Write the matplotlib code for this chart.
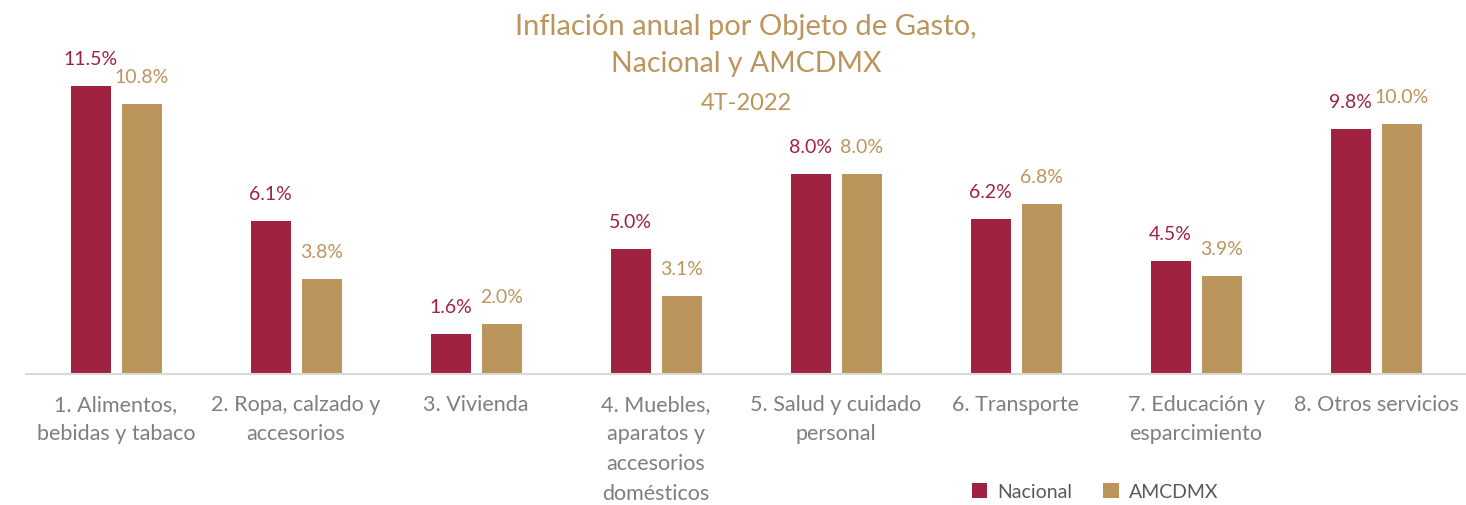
import matplotlib
matplotlib.use("Agg")
import matplotlib.pyplot as plt
import numpy as np

categorias = [
    "1. Alimentos,\nbebidas y tabaco",
    "2. Ropa, calzado y\naccesorios",
    "3. Vivienda",
    "4. Muebles,\naparatos y\naccesorios\ndomésticos",
    "5. Salud y cuidado\npersonal",
    "6. Transporte",
    "7. Educación y\nesparcimiento",
    "8. Otros servicios",
]
nacional = [11.5, 6.1, 1.6, 5.0, 8.0, 6.2, 4.5, 9.8]
amcdmx = [10.8, 3.8, 2.0, 3.1, 8.0, 6.8, 3.9, 10.0]

c_nac = "#9F2241"
c_amc = "#BC955C"
c_title = "#BC955C"
c_gray = "#7F7F7F"

plt.rcParams['font.family'] = ['Lato', 'DejaVu Sans']

fig = plt.figure(figsize=(14.66, 5.05), dpi=100)
ax = fig.add_axes([26 / 1466, 1 - 374 / 505, 1440 / 1466, 374 / 505])

x = np.arange(len(categorias))
w = 40 / 180
off = (40 + 11) / 180 / 2
ax.bar(x - off, nacional, w, color=c_nac, label="Nacional")
ax.bar(x + off, amcdmx, w, color=c_amc, label="AMCDMX")

for xi, v in zip(x - off, nacional):
    ax.annotate(f"{v:.1f}%", (xi, v), xytext=(0, 19), textcoords="offset points",
                ha="center", va="center", color=c_nac, fontsize=14)
for xi, v in zip(x + off, amcdmx):
    ax.annotate(f"{v:.1f}%", (xi, v), xytext=(0, 19), textcoords="offset points",
                ha="center", va="center", color=c_amc, fontsize=14)

ax.set_xlim(-0.5, len(categorias) - 0.5)
ax.set_ylim(0, 374 / 25.04)
for s in ["top", "right", "left"]:
    ax.spines[s].set_visible(False)
ax.spines["bottom"].set_color("#D9D9D9")
ax.spines["bottom"].set_linewidth(1.5)
ax.set_yticks([])
ax.set_xticks(x)
ax.set_xticklabels(categorias, fontsize=15.5, color=c_gray,
                   linespacing=1.6, va="top")
ax.tick_params(axis="x", length=0, pad=15)

fig.text(0.509, 1 - 27 / 505, "Inflación anual por Objeto de Gasto,", ha="center", va="center",
         fontsize=21, color=c_title)
fig.text(0.509, 1 - 64 / 505, "Nacional y AMCDMX", ha="center", va="center",
         fontsize=20.5, color=c_title)
fig.text(0.509, 1 - 104 / 505, "4T-2022", ha="center", va="center",
         fontsize=17, color=c_title)

leg = fig.legend(loc="center", bbox_to_anchor=(1095 / 1466, 1 - 492 / 505), ncol=2,
                 frameon=False, fontsize=14, handlelength=0.8, handleheight=0.8,
                 columnspacing=1.6, handletextpad=0.5)
for t in leg.get_texts():
    t.set_color("#595959")

fig.savefig("out.png", dpi=100)
